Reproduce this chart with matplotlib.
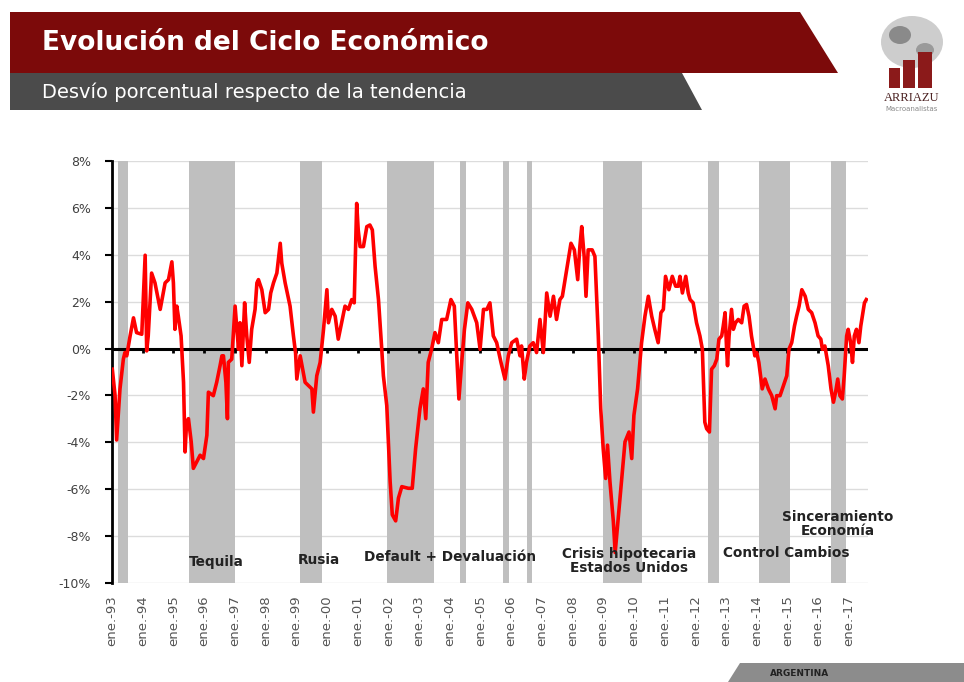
import matplotlib
matplotlib.use("Agg")
import matplotlib.pyplot as plt
from matplotlib.patches import Polygon, Rectangle, Ellipse

# ---------------- data ----------------
cycle_dates = [
    1993.01, 1993.10, 1993.15, 1993.26, 1993.37, 1993.42, 1993.48, 1993.59, 1993.70, 1993.80,
    1993.97, 1994.08, 1994.13, 1994.18, 1994.29, 1994.40, 1994.57, 1994.73, 1994.84, 1994.95,
    1995.00, 1995.05, 1995.11, 1995.16, 1995.25, 1995.33, 1995.38, 1995.43, 1995.49, 1995.58,
    1995.65, 1995.76, 1995.87, 1995.98, 1996.09, 1996.14, 1996.30, 1996.41, 1996.52, 1996.58,
    1996.63, 1996.71, 1996.76, 1996.79, 1996.90, 1997.01, 1997.12, 1997.17, 1997.23, 1997.32,
    1997.39, 1997.47, 1997.55, 1997.66, 1997.72, 1997.77, 1997.88, 1997.99, 1998.10, 1998.17,
    1998.26, 1998.37, 1998.48, 1998.53, 1998.64, 1998.80, 1998.91, 1998.98, 1999.02, 1999.13,
    1999.29, 1999.51, 1999.56, 1999.67, 1999.78, 1999.89, 2000.00, 2000.05, 2000.16, 2000.27,
    2000.37, 2000.48, 2000.59, 2000.70, 2000.81, 2000.89, 2000.97, 2001.02, 2001.08, 2001.19,
    2001.30, 2001.40, 2001.48, 2001.57, 2001.68, 2001.78, 2001.84, 2001.95, 2002.06, 2002.13,
    2002.24, 2002.33, 2002.44, 2002.65, 2002.78, 2002.89, 2003.03, 2003.14, 2003.22, 2003.30,
    2003.41, 2003.52, 2003.63, 2003.74, 2003.90, 2004.04, 2004.15, 2004.23, 2004.30, 2004.39,
    2004.48, 2004.59, 2004.72, 2004.88, 2004.99, 2005.10, 2005.21, 2005.31, 2005.42, 2005.53,
    2005.67, 2005.80, 2005.91, 2006.02, 2006.18, 2006.29, 2006.34, 2006.43, 2006.50, 2006.61,
    2006.72, 2006.83, 2006.94, 2007.05, 2007.16, 2007.27, 2007.38, 2007.48, 2007.59, 2007.67,
    2007.81, 2007.95, 2008.06, 2008.17, 2008.24, 2008.30, 2008.38, 2008.44, 2008.51, 2008.64,
    2008.73, 2008.84, 2008.92, 2009.00, 2009.08, 2009.14, 2009.22, 2009.33, 2009.39, 2009.47,
    2009.60, 2009.71, 2009.84, 2009.93, 2010.00, 2010.12, 2010.25, 2010.36, 2010.47, 2010.58,
    2010.68, 2010.79, 2010.88, 2010.96, 2011.03, 2011.14, 2011.25, 2011.36, 2011.45, 2011.50,
    2011.58, 2011.69, 2011.77, 2011.83, 2011.93, 2012.04, 2012.15, 2012.23, 2012.31, 2012.37,
    2012.46, 2012.53, 2012.62, 2012.70, 2012.77, 2012.86, 2012.91, 2012.97, 2013.02, 2013.05,
    2013.10, 2013.18, 2013.24, 2013.31, 2013.40, 2013.51, 2013.59, 2013.67, 2013.75, 2013.83,
    2013.94, 2014.00, 2014.07, 2014.18, 2014.27, 2014.38, 2014.49, 2014.60, 2014.65, 2014.76,
    2014.87, 2014.98, 2015.05, 2015.14, 2015.23, 2015.30, 2015.38, 2015.47, 2015.58, 2015.68,
    2015.79, 2015.90, 2016.00, 2016.09, 2016.14, 2016.22, 2016.33, 2016.42, 2016.50, 2016.57,
    2016.64, 2016.71, 2016.79, 2016.85, 2016.93, 2016.98, 2017.06, 2017.12, 2017.18, 2017.25,
    2017.33, 2017.39, 2017.51, 2017.57,
]
cycle_values = [
    -0.88, -2.00, -3.90, -1.72, -0.45, -0.17, -0.31, 0.54, 1.31, 0.68,
    0.61, 3.98, -0.10, 0.54, 3.22, 2.80, 1.67, 2.80, 2.94, 3.70,
    2.80, 0.82, 1.81, 1.38, 0.54, -1.44, -4.41, -3.14, -2.99, -3.98,
    -5.11, -4.83, -4.55, -4.69, -3.70, -1.86, -2.01, -1.44, -0.73, -0.31,
    -0.31, -1.44, -2.99, -0.59, -0.45, 1.81, -0.03, 1.10, -0.73, 1.95,
    0.54, -0.59, 0.82, 1.67, 2.80, 2.94, 2.51, 1.53, 1.67, 2.37,
    2.80, 3.22, 4.49, 3.64, 2.80, 1.81, 0.54, -0.20, -1.30, -0.31,
    -1.44, -1.72, -2.71, -1.16, -0.59, 0.82, 2.51, 1.10, 1.67, 1.38,
    0.40, 1.10, 1.81, 1.67, 2.09, 1.95, 6.19, 5.06, 4.35, 4.35,
    5.20, 5.27, 5.06, 3.50, 2.09, 0.11, -1.16, -2.43, -5.68, -7.09,
    -7.35, -6.38, -5.89, -5.96, -5.96, -4.27, -2.57, -1.72, -2.99, -0.59,
    -0.03, 0.68, 0.25, 1.24, 1.24, 2.09, 1.81, -0.31, -2.15, -0.59,
    0.82, 1.95, 1.67, 1.10, -0.03, 1.67, 1.67, 1.95, 0.54, 0.25,
    -0.59, -1.30, -0.31, 0.25, 0.40, -0.31, 0.11, -1.30, -0.59, 0.11,
    0.25, -0.17, 1.24, -0.17, 2.37, 1.38, 2.23, 1.24, 2.09, 2.23,
    3.36, 4.49, 4.21, 2.94, 4.35, 5.20, 3.93, 2.23, 4.21, 4.21,
    3.93, 0.54, -2.57, -4.27, -5.54, -4.12, -5.68, -7.37, -8.70, -7.51,
    -5.54, -3.98, -3.56, -4.69, -2.85, -1.72, 0.25, 1.38, 2.23, 1.38,
    0.82, 0.25, 1.53, 1.67, 3.08, 2.51, 3.08, 2.66, 2.66, 3.08,
    2.37, 3.08, 2.37, 2.09, 1.95, 1.10, 0.54, -0.03, -3.14, -3.42,
    -3.56, -0.88, -0.73, -0.45, 0.40, 0.54, 0.96, 1.53, -0.03, -0.73,
    0.54, 1.67, 0.82, 1.10, 1.24, 1.10, 1.81, 1.88, 1.38, 0.54,
    -0.31, -0.17, -0.59, -1.72, -1.30, -1.72, -2.01, -2.57, -2.01, -2.01,
    -1.58, -1.16, -0.03, 0.25, 0.96, 1.38, 1.81, 2.51, 2.23, 1.67,
    1.53, 1.10, 0.54, 0.40, -0.03, 0.11, -0.73, -1.72, -2.29, -1.86,
    -1.30, -2.01, -2.15, -1.16, 0.54, 0.82, 0.25, -0.59, 0.54, 0.82,
    0.25, 0.96, 1.95, 2.09,
]

band_starts = [1993.20, 1995.50, 1999.12, 2001.95, 2004.34, 2005.75, 2006.51, 2009.00, 2012.42, 2014.08, 2016.41]
band_ends   = [1993.52, 1997.00, 1999.85, 2003.50, 2004.53, 2005.93, 2006.69, 2010.25, 2012.77, 2015.08, 2016.91]

event_labels = ["Tequila", "Rusia", "Default + Devaluación",
                "Crisis hipotecaria\nEstados Unidos", "Control Cambios",
                "Sinceramiento\nEconomía"]
event_x = [1995.51, 1999.06, 2001.21, 2009.85, 2014.95, 2016.65]
event_y = [-9.11, -9.02, -8.89, -9.05, -8.72, -7.49]
event_ha = ["left", "left", "left", "center", "center", "center"]

tick_years = list(range(1993, 2018))
tick_labels = ["ene.-%02d" % (y % 100) for y in tick_years]
y_ticks = [8, 6, 4, 2, 0, -2, -4, -6, -8, -10]
y_tick_labels = ["%d%%" % v for v in y_ticks]

title = "Evolución del Ciclo Económico"
subtitle = "Desvío porcentual respecto de la tendencia"

# ---------------- figure ----------------
W, H = 964, 682
fig = plt.figure(figsize=(W / 100, H / 100), dpi=100)
fig.patch.set_facecolor("white")
font = "DejaVu Sans"

# background / header axes in pixel coords
bg = fig.add_axes([0, 0, 1, 1], zorder=0)
bg.set_xlim(0, W)
bg.set_ylim(H, 0)
bg.axis("off")
bg.add_patch(Polygon([[10, 12], [800, 12], [838, 73], [10, 73]], closed=True,
                     facecolor="#7c0a0a", edgecolor="none"))
bg.add_patch(Polygon([[10, 73], [682, 73], [702, 110], [10, 110]], closed=True,
                     facecolor="#4b4b4b", edgecolor="none"))
bg.text(42, 43, title, color="white", fontsize=19, fontweight="bold",
        family=font, va="center", ha="left")
bg.text(42, 92, subtitle, color="white", fontsize=14,
        family=font, va="center", ha="left")

# logo
bg.add_patch(Ellipse((912, 42), 62, 52, facecolor="#c8c8c8", edgecolor="none", alpha=0.9))
bg.add_patch(Ellipse((900, 35), 22, 18, facecolor="#8a8a8a", edgecolor="none"))
bg.add_patch(Ellipse((925, 50), 18, 14, facecolor="#9a9a9a", edgecolor="none"))
bg.add_patch(Rectangle((889, 68), 11, 20, facecolor="#8b1a1a", edgecolor="none"))
bg.add_patch(Rectangle((903, 60), 12, 28, facecolor="#8b1a1a", edgecolor="none"))
bg.add_patch(Rectangle((918, 52), 14, 36, facecolor="#8b1a1a", edgecolor="none"))
bg.text(912, 98, "ARRIAZU", color="#4a2020", fontsize=9, family="Liberation Serif",
        ha="center", va="center")
bg.text(912, 109, "Macroanalistas", color="#888888", fontsize=5, family=font,
        ha="center", va="center")

# bottom-right banner
bg.add_patch(Polygon([[740, 663], [W, 663], [W, H], [728, H]], closed=True,
                     facecolor="#8c8c8c", edgecolor="none"))
bg.text(800, 673, "ARGENTINA", color="#222222", fontsize=6.5, fontweight="bold",
        family=font, ha="center", va="center")

# main chart axes
ax_left, ax_right, ax_top, ax_bottom = 112, 868, 161, 583
ax = fig.add_axes([ax_left / W, 1 - ax_bottom / H, (ax_right - ax_left) / W,
                   (ax_bottom - ax_top) / H], zorder=2)
ax.set_facecolor("none")
ax.set_xlim(1993.0, 1993.0 + (ax_right - ax_left) / 30.7)
ax.set_ylim(-10, 8)

for s, e in zip(band_starts, band_ends):
    ax.axvspan(s, e, color="#bfbfbf", lw=0, zorder=1)

for v in y_ticks:
    ax.axhline(v, color="#dcdcdc", lw=1.0, zorder=0.5)

ax.axhline(0, color="black", lw=2.2, zorder=3)
ax.vlines(tick_years[1:], -0.2, 0, color="black", lw=2, zorder=3)

ax.plot(cycle_dates, cycle_values, color="#ff0000", lw=2.6, zorder=4,
        solid_joinstyle="round")

for lab, x, y, ha in zip(event_labels, event_x, event_y, event_ha):
    ax.text(x, y, lab, fontsize=9.8, fontweight="bold", color="#222222",
            family=font, ha=ha, va="center", linespacing=1.0, zorder=5)

for sp in ["top", "right", "bottom"]:
    ax.spines[sp].set_visible(False)
ax.spines["left"].set_color("black")
ax.spines["left"].set_linewidth(2)
ax.spines["left"].set_zorder(3)

ax.set_yticks(y_ticks)
ax.set_yticklabels(y_tick_labels, fontsize=9, color="#404040", family=font)
ax.tick_params(axis="y", direction="out", length=5, width=1.5, color="black", pad=10)

ax.set_xticks(tick_years)
ax.set_xticklabels(tick_labels, rotation=90, fontsize=9.5, color="#555555",
                   family=font, va="top", ha="center")
ax.tick_params(axis="x", length=0, pad=9)

fig.savefig("out.png", dpi=100, facecolor="white")
